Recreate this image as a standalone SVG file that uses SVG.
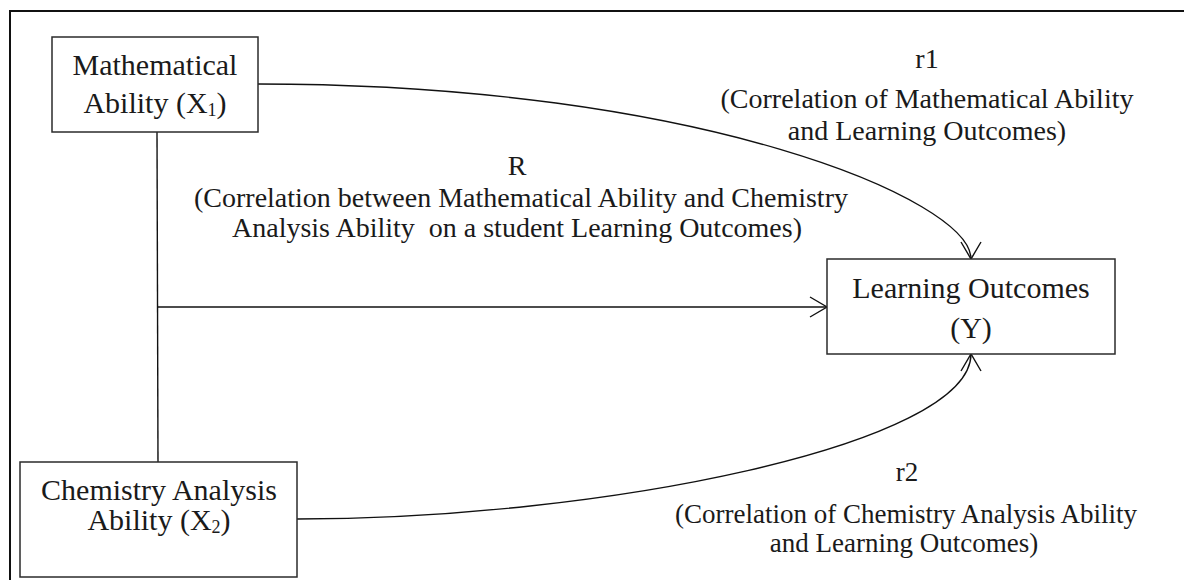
<svg xmlns="http://www.w3.org/2000/svg" width="1184" height="580" viewBox="0 0 1184 580">
  <style>
    .box { fill: #ffffff; stroke: #2b2b2b; stroke-width: 1.5; }
    .node { font-family: "Liberation Serif", "Times New Roman", serif; font-size: 30px; fill: #1a1a1a; text-anchor: middle; }
    .lbl { font-family: "Liberation Serif", "Times New Roman", serif; font-size: 28px; fill: #1a1a1a; text-anchor: middle; }
    .lbl2 { font-size: 27px; }
    .conn { fill: none; stroke: #111111; stroke-width: 1.4; }
    .sub { font-size: 18px; }
  </style>
  <defs>
    <marker id="arrow" markerUnits="userSpaceOnUse" markerWidth="24" markerHeight="24" viewBox="-20 -12 22 24" refX="0" refY="0" orient="auto">
      <path d="M-17,-10 L0,0 L-17,10" fill="none" stroke="#111111" stroke-width="1.4"/>
    </marker>
  </defs>

  <rect x="10" y="11" width="1200" height="600" fill="#ffffff" stroke="#111111" stroke-width="2"/>

  <g id="connectors">
    <path class="conn" d="M258,84 C700,84 971,200 971,259" marker-end="url(#arrow)"/>
    <path class="conn" d="M157,132 L158,462"/>
    <path class="conn" d="M157,307 L827,307" marker-end="url(#arrow)"/>
    <path class="conn" d="M297,519 C600,519 971,445 971,354" marker-end="url(#arrow)"/>
  </g>

  <g id="node-x1">
    <rect class="box" x="52" y="37" width="206" height="95"/>
    <text class="node" x="155" y="75">Mathematical</text>
    <text class="node" x="155" y="113">Ability (X<tspan class="sub" dy="3">1</tspan><tspan dy="-3">)</tspan></text>
  </g>

  <g id="node-x2">
    <rect class="box" x="20" y="462" width="277" height="115"/>
    <text class="node" x="159" y="500">Chemistry Analysis</text>
    <text class="node" x="159" y="530">Ability (X<tspan class="sub" dy="3">2</tspan><tspan dy="-3">)</tspan></text>
  </g>

  <g id="node-y">
    <rect class="box" x="827" y="259" width="288" height="95"/>
    <text class="node" x="971" y="298">Learning Outcomes</text>
    <text class="node" x="971" y="338">(Y)</text>
  </g>

  <g id="label-r1">
    <text class="lbl" x="927" y="68">r1</text>
    <text class="lbl" x="927" y="108">(Correlation of Mathematical Ability</text>
    <text class="lbl" x="927" y="140">and Learning Outcomes)</text>
  </g>

  <g id="label-R">
    <text class="lbl" x="517" y="175">R</text>
    <text class="lbl" x="521" y="207">(Correlation between Mathematical Ability and Chemistry</text>
    <text class="lbl" x="517" y="237" style="white-space:pre">Analysis Ability  on a student Learning Outcomes)</text>
  </g>

  <g id="label-r2">
    <text class="lbl lbl2" x="907" y="481">r2</text>
    <text class="lbl lbl2" x="906" y="523">(Correlation of Chemistry Analysis Ability</text>
    <text class="lbl lbl2" x="904" y="552">and Learning Outcomes)</text>
  </g>
</svg>
